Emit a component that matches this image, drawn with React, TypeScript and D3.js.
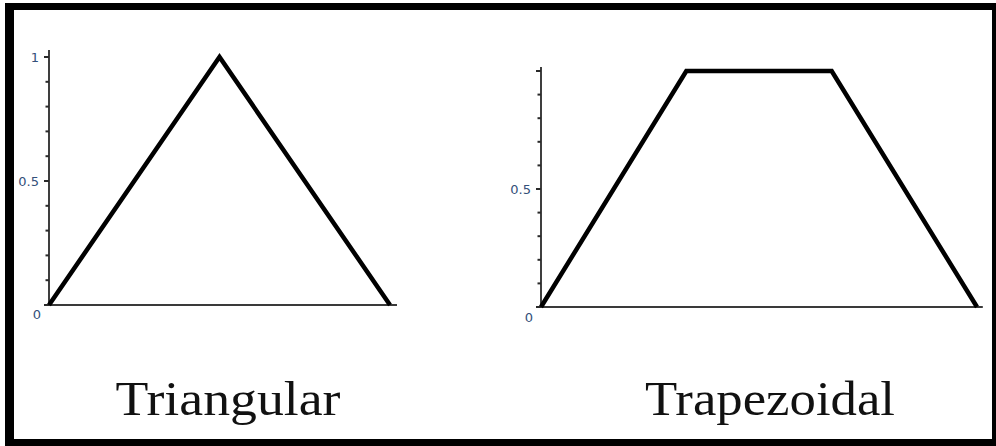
import React from "react";
import * as d3 from "d3";

const triX = [0, 0.5, 1];
const triY = [0, 1, 0];
const trapX = [0, 1, 2, 3];
const trapY = [0, 1, 1, 0];
const minorTicks = [0, 0.1, 0.2, 0.3, 0.4, 0.5, 0.6, 0.7, 0.8, 0.9, 1];
const majorTicks = [0, 0.5, 1];
const leftLabels = ["0", "0.5", "1"];
const rightLabels = ["0", "0.5"];
const titles = ["Triangular", "Trapezoidal"];

type PanelProps = {
  xs: number[];
  ys: number[];
  xDomain: [number, number];
  xRange: [number, number];
  yRange: [number, number];
  xAxisMax: number;
  yAxisMax: number;
  labels: string[];
  zeroDy: number;
  zeroDx: number;
};

function Panel(p: PanelProps) {
  const x = d3.scaleLinear().domain(p.xDomain).range(p.xRange);
  const y = d3.scaleLinear().domain([0, 1]).range(p.yRange);
  const line = d3
    .line<number>()
    .x((_, i) => x(p.xs[i]))
    .y((d) => y(d));
  const x0 = x(p.xDomain[0]);
  const y0 = y(0);
  return (
    <g>
      <line x1={x0} x2={x(p.xAxisMax)} y1={y0} y2={y0} stroke="#3a3a3a" strokeWidth={2.2} />
      <line x1={x0} x2={x0} y1={y0} y2={y(p.yAxisMax)} stroke="#2a2a2a" strokeWidth={1.8} />
      {minorTicks.map((t, i) => {
        const major = majorTicks.some((m) => Math.abs(m - t) < 1e-9);
        return (
          <line
            key={i}
            x1={x0 - (major ? 5 : 3.5)}
            x2={x0}
            y1={y(t)}
            y2={y(t)}
            stroke="#2a2a2a"
            strokeWidth={2}
          />
        );
      })}
      {p.labels.map((lab, i) => {
        const v = majorTicks[i];
        const isZero = v === 0;
        return (
          <text
            key={lab}
            x={x0 - (isZero ? p.zeroDx : 10)}
            y={y(v) + (isZero ? p.zeroDy : 0)}
            textAnchor="end"
            dominantBaseline="central"
            fontFamily="DejaVu Sans"
            fontSize={13}
            fill="#34507a"
          >
            {lab}
          </text>
        );
      })}
      <path
        d={line(p.ys) || ""}
        fill="none"
        stroke="#000"
        strokeWidth={4.5}
        strokeLinejoin="miter"
      />
    </g>
  );
}

export default function App() {
  return (
    <svg
      width={996}
      height={446}
      style={{ position: "fixed", left: 0, top: 0, display: "block", background: "#fff" }}
    >
      <rect x={0} y={0} width={996} height={446} fill="#fff" />
      <rect x={5} y={3} width={995} height={447} fill="#000" />
      <rect x={14} y={10} width={978} height={429} fill="#fff" />
      <Panel
        xs={triX}
        ys={triY}
        xDomain={[0, 1]}
        xRange={[49, 390]}
        yRange={[305, 57]}
        xAxisMax={1.0205}
        yAxisMax={1.028}
        labels={leftLabels}
        zeroDy={9}
        zeroDx={8}
      />
      <Panel
        xs={trapX}
        ys={trapY}
        xDomain={[0, 3]}
        xRange={[541, 977]}
        yRange={[307, 71]}
        xAxisMax={3.04}
        yAxisMax={1.017}
        labels={rightLabels}
        zeroDy={10}
        zeroDx={8}
      />
      <text
        x={228}
        y={415}
        textAnchor="middle"
        fontFamily="Liberation Serif"
        fontSize={48}
        textLength={225}
        lengthAdjust="spacingAndGlyphs"
        fill="#111"
      >
        {titles[0]}
      </text>
      <text
        x={770}
        y={415}
        textAnchor="middle"
        fontFamily="Liberation Serif"
        fontSize={48}
        textLength={250}
        lengthAdjust="spacingAndGlyphs"
        fill="#111"
      >
        {titles[1]}
      </text>
    </svg>
  );
}
